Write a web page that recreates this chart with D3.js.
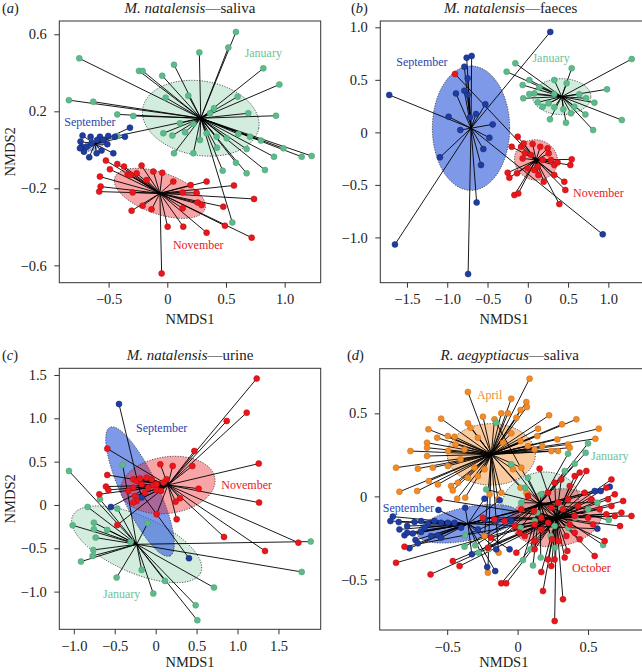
<!DOCTYPE html>
<html><head><meta charset="utf-8">
<script src="https://cdn.jsdelivr.net/npm/d3@7/dist/d3.min.js"></script>
<style>body{margin:0;background:#fff}svg{display:block}</style>
</head><body>
<svg id="chart" width="642" height="672"></svg>
<script>
// ---------- DATA (NMDS coordinates) ----------
// Panel (a) M. natalensis — saliva
const aJan = [[-0.750,0.475],[-0.838,0.258],[-0.631,0.250],[-0.426,0.184],[-0.290,0.176],[-0.426,0.072],[-0.241,0.410],[-0.210,0.410],[-0.043,0.385],[0.057,0.442],[0.273,0.506],[0.520,0.531],[0.585,0.612],[0.818,0.423],[0.955,0.339],[0.926,0.177],[0.690,0.190],[0.599,0.276],[0.179,0.281],[-0.014,0.271],[0.398,0.216],[0.364,0.190],[0.605,0.082],[0.705,0.068],[0.798,0.048],[0.989,0.008],[1.145,-0.036],[1.230,-0.032],[0.909,-0.036],[0.832,-0.105],[0.676,-0.122],[0.585,-0.067],[0.472,-0.108],[0.423,0.011],[0.222,-0.018],[0.057,-0.018],[0.676,0.004],[0.554,-0.377],[-0.034,0.086],[0.043,0.074],[0.151,0.091],[0.222,0.134],[0.108,0.138],[0.335,0.086],[0.420,0.068],[0.506,0.060],[0.278,0.051]];
const aSep = [[-0.318,0.115],[-0.361,0.068],[-0.446,0.068],[-0.503,0.072],[-0.574,0.068],[-0.722,0.074],[-0.653,0.068],[-0.739,0.043],[-0.730,0.016],[-0.710,-0.010],[-0.665,-0.039],[-0.602,-0.018],[-0.560,-0.004],[-0.511,0.029],[-0.460,-0.018],[-0.597,0.051],[-0.688,0.016],[-0.645,0.034],[-0.545,0.051],[-0.744,0.008]];
const aNov = [[-0.523,-0.056],[-0.426,-0.074],[-0.369,-0.087],[-0.338,-0.127],[-0.313,-0.131],[-0.219,-0.082],[-0.261,-0.122],[-0.574,-0.139],[-0.568,-0.191],[-0.580,-0.217],[-0.295,-0.221],[-0.304,-0.316],[-0.210,-0.290],[-0.134,-0.309],[0.003,-0.399],[0.136,-0.399],[0.335,-0.430],[0.491,-0.394],[0.719,-0.456],[-0.048,-0.642],[0.739,-0.255],[0.568,-0.185],[0.335,-0.165],[0.199,-0.183],[0.250,-0.223],[0.131,-0.221],[0.259,-0.274],[0.293,-0.287],[0.131,-0.304],[0.477,-0.295],[-0.043,-0.119],[-0.489,-0.101],[-0.176,-0.157],[0.051,-0.165],[-0.119,-0.113]];
const aCentroids = {Jan:[0.285,0.164], Sep:[-0.617,0.030], Nov:[-0.063,-0.226]};
const aEllipses = {Jan:[0.494,-0.052,-0.054,-0.190], Sep:[0.104,0.029,0.017,-0.024], Nov:[0.384,-0.082,-0.0585,-0.101]};
const aLabels = [["January",0.818,0.505],["September",-0.659,0.146],["November",0.264,-0.494]];
const aXTicks = [-0.5,0,0.5,1.0], aYTicks = [0.6,0.2,-0.2,-0.6];

// Panel (b) M. natalensis — faeces
const bSep = [[0.279,0.956],[-0.759,0.711],[-0.697,0.727],[-0.788,0.625],[-0.747,0.514],[-0.788,0.397],[-0.892,0.371],[-0.747,0.356],[-1.720,0.356],[-0.718,0.143],[-0.643,0.175],[-0.527,0.267],[-0.983,0.149],[-0.436,0.076],[-0.838,0.022],[-0.477,-0.051],[-0.552,-0.159],[-1.091,-0.238],[-0.581,-0.311],[-0.635,-0.667],[-1.649,-1.067],[-0.741,-1.349],[0.930,-0.971]];
const bJan = [[-0.155,0.657],[-0.263,0.578],[0.545,0.610],[1.290,0.698],[0.983,0.410],[0.329,0.498],[0.482,0.467],[0.019,0.498],[-0.064,0.451],[0.143,0.429],[0.081,0.371],[0.019,0.365],[-0.056,0.324],[0.123,0.286],[0.259,0.276],[0.329,0.365],[0.640,0.362],[0.723,0.324],[0.827,0.283],[0.715,0.171],[0.536,0.181],[0.441,0.219],[0.474,0.092],[0.275,0.124],[0.811,0.022],[1.167,0.117],[0.329,0.238],[0.184,0.244],[0.577,0.244]];
const bNov = [[-0.125,-0.041],[-0.200,-0.137],[-0.084,-0.137],[-0.051,-0.105],[0.060,-0.111],[0.155,-0.137],[0.246,-0.152],[0.259,-0.200],[-0.035,-0.200],[0.040,-0.216],[-0.064,-0.248],[0.184,-0.263],[0.288,-0.263],[0.329,-0.311],[0.545,-0.257],[0.528,-0.311],[0.370,-0.286],[-0.002,-0.343],[0.122,-0.327],[-0.134,-0.390],[-0.250,-0.384],[-0.229,-0.432],[0.131,-0.406],[0.197,-0.470],[0.329,-0.406],[0.453,-0.470],[0.466,-0.549],[0.391,-0.683],[-0.167,-0.597],[-0.118,-0.581],[0.081,-0.359],[-0.904,0.556]];
const bCentroids = {Sep:[-0.705,0.040], Jan:[0.421,0.340], Nov:[0.102,-0.263]};
const bEllipses = {Sep:[0.48,0,0,0.592], Jan:[0.362,0,0,0.171], Nov:[0.265,-0.032,-0.033,-0.19]};
const bLabels = [["September",-1.314,0.673],["January",0.289,0.714],["November",0.876,-0.575]];
const bXTicks = [-1.5,-1.0,-0.5,0,0.5,1.0], bYTicks = [1.0,0.5,0,-0.5,-1.0];

// Panel (c) M. natalensis — urine
const cNov = [[1.234,1.458],[1.112,1.065],[0.868,0.969],[0.473,0.623],[0.448,0.450],[0.057,0.469],[0.208,0.450],[1.259,0.477],[1.263,0.027],[0.525,0.188],[0.297,0.077],[0.244,0.038],[0.257,-0.165],[0.012,-0.108],[0.835,-0.369],[1.336,-0.531],[1.743,-0.435],[-0.468,-0.231],[-0.591,0.650],[-0.591,0.346],[-0.607,0.212],[-0.578,0.173],[-0.688,0.123],[-0.273,0.296],[-0.232,0.277],[-0.191,0.304],[-0.110,0.315],[-0.049,0.296],[-0.029,0.227],[0.012,0.173],[0.065,0.162],[-0.273,0.200],[-0.252,0.104],[-0.232,0.046],[-0.130,0.142],[-0.090,0.200],[0.094,0.258],[0.134,0.296],[-0.273,0.027],[-0.334,0.162],[-0.171,0.238],[0.012,0.238]];
const cSep = [[-0.448,1.165],[-0.171,0.085],[-0.546,-0.023],[0.407,-0.615]];
const cJan = [[-1.059,0.392],[-0.680,0.065],[-0.831,-0.023],[-0.468,-0.042],[-1.014,-0.235],[-0.754,-0.204],[-0.754,-0.281],[-0.591,-0.288],[-0.733,-0.377],[-0.762,-0.519],[-0.770,-0.588],[-0.912,-0.654],[-0.403,0.462],[-0.098,-0.212],[-0.305,-0.427],[-0.477,-0.838],[-0.171,-0.750],[-0.029,-1.023],[0.114,-0.877],[0.713,-0.954],[0.489,-1.158],[0.509,-1.331],[1.784,-0.773],[1.894,-0.423]];
const cCentroids = {Nov:[0.15,0.23], Sep:[-0.191,0.154], Jan:[-0.232,-0.454]};
const cEllipses = {Nov:[0.574,0.077,0.049,-0.323], Sep:[0.367,-0.742,0.203,0.0896], Jan:[0.782,-0.327,-0.140,-0.299]};
const cLabels = [["September",0.073,0.892],["November",1.112,0.231],["January",-0.415,-1.023]];
const cXTicks = [-1.0,-0.5,0,0.5,1.0,1.5], cYTicks = [1.5,1.0,0.5,0,-0.5,-1.0];

// Panel (d) R. aegyptiacus — saliva
const dApr = [[0.085,0.709],[-0.353,0.629],[-0.045,0.588],[0.062,0.568],[0.066,0.538],[0.021,0.520],[-0.116,0.500],[-0.069,0.500],[-0.009,0.474],[-0.246,0.480],[-0.164,0.464],[-0.543,0.468],[-0.353,0.440],[-0.334,0.414],[0.223,0.488],[0.417,0.464],[0.315,0.434],[0.576,0.408],[0.552,0.347],[0.282,0.343],[0.358,0.313],[0.370,0.293],[-0.633,0.404],[-0.571,0.353],[-0.495,0.363],[-0.448,0.359],[-0.643,0.323],[-0.643,0.293],[-0.761,0.273],[-0.643,0.243],[-0.495,0.273],[-0.441,0.313],[-0.863,0.173],[-0.708,0.167],[-0.602,0.173],[-0.495,0.183],[-0.630,0.092],[-0.566,0.072],[-0.713,0.032],[-0.839,0.028],[-0.472,0.062],[-0.460,0.036],[-0.429,-0.014],[-0.372,-0.008],[-0.424,0.082],[-0.353,0.112],[-0.199,0.012],[-0.116,0.022],[-0.140,-0.018],[0.145,0.408],[0.140,0.363],[0.073,0.303],[0.121,0.283],[0.175,0.303],[0.239,0.273],[0.287,0.273],[-0.282,0.122],[-0.235,0.163],[-0.306,0.173],[-0.045,0.380],[0.021,0.333],[-0.104,0.323],[-0.282,0.353],[-0.377,0.283],[-0.405,0.223],[-0.211,-0.460],[-0.135,-0.339],[-0.235,-0.239],[0.021,0.052],[0.062,0.022],[-0.033,0.163],[0.026,0.173]];
const dJan = [[0.500,0.319],[0.483,0.263],[0.358,0.257],[0.405,0.197],[0.334,0.153],[-0.045,0.193],[-0.152,0.444],[0.073,0.112],[0.054,0.052],[-0.223,0.042],[0.026,-0.038],[0.140,-0.098],[0.121,-0.149],[0.021,-0.189],[0.092,-0.319],[0.038,-0.384],[0.109,-0.416],[0.164,-0.369],[0.263,-0.309],[0.358,-0.189],[0.410,-0.129],[0.500,-0.078],[0.607,-0.293],[0.647,-0.143],[0.566,-0.038],[-0.372,-0.235],[-0.301,-0.295],[-0.277,-0.339],[-0.206,-0.319],[-0.377,-0.303],[0.235,-0.239],[0.263,-0.179],[0.310,-0.068],[0.168,0.012]];
const dSep = [[-0.886,-0.122],[-0.903,-0.149],[-0.844,-0.155],[-0.784,-0.179],[-0.732,-0.155],[-0.685,-0.149],[-0.637,-0.163],[-0.562,-0.082],[-0.590,-0.149],[-0.543,-0.159],[-0.495,-0.159],[-0.803,-0.235],[-0.784,-0.219],[-0.744,-0.223],[-0.685,-0.215],[-0.725,-0.263],[-0.768,-0.313],[-0.708,-0.283],[-0.614,-0.239],[-0.566,-0.235],[-0.543,-0.249],[-0.372,-0.068],[-0.235,-0.014],[-0.128,-0.024],[-0.235,-0.139],[-0.152,-0.149],[-0.045,-0.149],[-0.057,-0.319],[-0.152,-0.319],[-0.325,-0.349],[-0.216,-0.426],[-0.159,-0.450],[0.547,0.032],[0.590,0.032],[0.654,0.058],[0.566,-0.195],[-0.448,-0.159],[-0.401,-0.189],[-0.282,-0.199],[-0.661,-0.189],[-0.839,-0.199]];
const dOct = [[0.156,0.167],[0.488,0.153],[0.441,0.143],[0.666,0.102],[0.630,0.052],[0.690,0.012],[0.749,-0.028],[0.642,-0.018],[0.666,-0.058],[0.737,-0.098],[0.808,-0.118],[0.727,-0.179],[0.630,-0.108],[0.583,-0.078],[0.524,-0.018],[0.476,0.022],[0.370,0.062],[0.405,0.122],[0.310,0.102],[0.263,0.082],[0.216,0.022],[0.358,-0.018],[0.429,-0.058],[0.500,-0.129],[0.618,-0.269],[0.547,-0.359],[0.334,-0.369],[0.353,-0.329],[0.263,-0.380],[0.216,-0.380],[0.168,-0.456],[0.180,-0.570],[0.322,-0.620],[0.263,-0.751],[0.291,-0.269],[0.244,-0.259],[0.121,-0.269],[0.050,-0.239],[0.014,-0.219],[-0.021,-0.179],[-0.092,-0.149],[-0.164,-0.139],[-0.246,-0.129],[-0.187,-0.249],[-0.211,-0.309],[-0.116,-0.524],[-0.081,-0.524],[-0.412,-0.420],[-0.460,-0.390],[-0.618,-0.470],[-0.863,-0.400],[-0.803,-0.303],[-0.555,-0.018],[0.116,-0.088],[0.168,-0.129],[0.121,-0.169],[0.216,-0.159],[0.168,-0.199],[0.370,-0.169],[0.405,-0.219],[0.346,-0.239],[0.441,-0.259],[0.073,0.002],[0.026,-0.078],[0.239,-0.068],[0.287,-0.038],[0.322,-0.078],[0.405,-0.118],[0.690,-0.118],[0.536,-0.169],[-0.009,-0.339],[0.121,-0.319],[0.239,-0.420]];
const dCentroids = {Apr:[-0.187,0.253], Jan:[0.16,-0.04], Sep:[-0.353,-0.165], Oct:[0.275,-0.129]};
const dEllipses = {Apr:[0.313,0,0,0.185], Jan:[0.27,0.05,-0.04,0.18], Sep:[0.36,0.06,-0.01,0.1], Oct:[0.32,0.04,-0.03,0.17]};
const dLabels = [["April",-0.199,0.614],["January",0.654,0.247],["September",-0.775,-0.068],["October",0.524,-0.430]];
const dXTicks = [-0.5,0,0.5], dYTicks = [0.5,0,-0.5];

// ---------- STYLE ----------
const FONT = "'Liberation Serif','Times New Roman',Times,serif";
const COL = {
  Jan:{pt:"#5dba8a", edge:"#479d70", fill:"rgba(93,186,138,0.28)", text:"#6cc297"},
  Sep:{pt:"#1f3c9f", edge:"#13287a", fill:"rgba(60,100,222,0.66)", text:"#2a46b0"},
  Nov:{pt:"#e8171c", edge:"#b80c10", fill:"rgba(235,30,35,0.40)", text:"#e8171c"},
  Oct:{pt:"#e8171c", edge:"#b80c10", fill:"rgba(235,30,35,0.40)", text:"#e8171c"},
  Apr:{pt:"#f08b28", edge:"#c96a10", fill:"rgba(242,140,42,0.45)", text:"#f08b28"}
};
const sepFillA = "rgba(60,100,222,0.45)";

const svg = d3.select("#chart");
const fmt = v => v === 0 ? "0" : (v < 0 ? "\u2212" : "") + Math.abs(v).toFixed(1);

const panels = [
  {id:"a", tag:"(a)", sp:"M. natalensis", rest:"\u2014saliva", box:[59.3,21,320.7,282.7], xd:[-0.920,1.307], yd:[-0.690,0.669],
   groups:[["Jan",aJan,aCentroids.Jan,aEllipses.Jan],["Sep",aSep,aCentroids.Sep,aEllipses.Sep],["Nov",aNov,aCentroids.Nov,aEllipses.Nov]],
   labels:aLabels, lcols:["Jan","Sep","Nov"], xt:aXTicks, yt:aYTicks, ylab:true, tagX:2},
  {id:"b", tag:"(b)", sp:"M. natalensis", rest:"\u2014faeces", box:[380.3,21,643,282.7], xd:[-1.831,1.430], yd:[-1.431,1.060],
   groups:[["Sep",bSep,bCentroids.Sep,bEllipses.Sep],["Jan",bJan,bCentroids.Jan,bEllipses.Jan],["Nov",bNov,bCentroids.Nov,bEllipses.Nov]],
   labels:bLabels, lcols:["Sep","Jan","Nov"], xt:bXTicks, yt:bYTicks, ylab:false, tagX:351, titleCx:510.7},
  {id:"c", tag:"(c)", sp:"M. natalensis", rest:"\u2014urine", box:[59.3,368.3,320.7,629.3], xd:[-1.177,2.016], yd:[-1.435,1.577],
   groups:[["Jan",cJan,cCentroids.Jan,cEllipses.Jan],["Sep",cSep,cCentroids.Sep,cEllipses.Sep],["Nov",cNov,cCentroids.Nov,cEllipses.Nov]],
   labels:cLabels, lcols:["Sep","Nov","Jan"], xt:cXTicks, yt:cYTicks, ylab:true, tagX:2},
  {id:"d", tag:"(d)", sp:"R. aegyptiacus", rest:"\u2014saliva", box:[379.7,368.7,643,630], xd:[-0.979,0.890], yd:[-0.805,0.769],
   groups:[["Apr",dApr,dCentroids.Apr,dEllipses.Apr],["Jan",dJan,dCentroids.Jan,dEllipses.Jan],["Sep",dSep,dCentroids.Sep,dEllipses.Sep],["Oct",dOct,dCentroids.Oct,dEllipses.Oct]],
   labels:dLabels, lcols:["Apr","Jan","Sep","Oct"], xt:dXTicks, yt:dYTicks, ylab:false, tagX:347, titleCx:509.7}
];

panels.forEach(p => {
  const [L,T,R,B] = p.box;
  const x = d3.scaleLinear().domain(p.xd).range([L,R]);
  const y = d3.scaleLinear().domain(p.yd).range([B,T]);
  const g = svg.append("g");
  g.append("clipPath").attr("id","clip"+p.id).append("rect").attr("x",L).attr("y",T).attr("width",R-L).attr("height",B-T);
  const plot = g.append("g").attr("clip-path","url(#clip"+p.id+")");

  // ellipses
  p.groups.forEach(([k,pts,c,e]) => {
    const ring = d3.range(0,121).map(i => {
      const t = i/120*2*Math.PI;
      return [x(c[0]+e[0]*Math.cos(t)+e[2]*Math.sin(t)), y(c[1]+e[1]*Math.cos(t)+e[3]*Math.sin(t))];
    });
    plot.append("path").attr("d", d3.line()(ring)+"Z")
      .attr("fill", (p.id==="a" && k==="Sep") ? sepFillA : COL[k].fill)
      .attr("stroke","#333").attr("stroke-width",0.8).attr("stroke-dasharray","1.2,1.4");
  });
  // spider lines
  p.groups.forEach(([k,pts,c]) => {
    plot.append("g").selectAll("line").data(pts).join("line")
      .attr("x1",x(c[0])).attr("y1",y(c[1]))
      .attr("x2",d=>x(d[0])).attr("y2",d=>y(d[1]))
      .attr("stroke","#000").attr("stroke-width",0.9);
  });
  // points
  p.groups.forEach(([k,pts]) => {
    plot.append("g").selectAll("circle").data(pts).join("circle")
      .attr("cx",d=>x(d[0])).attr("cy",d=>y(d[1])).attr("r",3)
      .attr("fill",COL[k].pt).attr("stroke",COL[k].edge).attr("stroke-width",0.5);
  });
  // group labels
  p.labels.forEach((l,i) => {
    plot.append("text").attr("x",x(l[1])).attr("y",y(l[2])).attr("dy","0.35em")
      .attr("text-anchor","middle").attr("font-family",FONT).attr("font-size",12)
      .attr("fill",COL[p.lcols[i]].text).text(l[0]);
  });
  // box
  g.append("rect").attr("x",L).attr("y",T).attr("width",R-L).attr("height",B-T)
    .attr("fill","none").attr("stroke","#333").attr("stroke-width",1);
  // axes
  const xa = g.append("g").attr("transform",`translate(0,${B})`)
    .call(d3.axisBottom(x).tickValues(p.xt).tickFormat(fmt).tickSize(5).tickPadding(6.5));
  const ya = g.append("g").attr("transform",`translate(${L},0)`)
    .call(d3.axisLeft(y).tickValues(p.yt).tickFormat(fmt).tickSize(5).tickPadding(7.5));
  [xa,ya].forEach(a => {
    a.select(".domain").remove();
    a.selectAll("line").attr("stroke","#333");
    a.selectAll("text").attr("font-family",FONT).attr("font-size",14.5).attr("fill","#222");
  });
  // axis titles
  g.append("text").attr("x",(L+Math.min(R,642))/2 + (p.id==="a"||p.id==="c" ? 0 : -7)).attr("y",Math.min(B+41.3,667))
    .attr("text-anchor","middle").attr("font-family",FONT).attr("font-size",14.5).attr("fill","#222").text("NMDS1");
  if (p.ylab) {
    g.append("text").attr("transform",`translate(15,${(T+B)/2}) rotate(-90)`)
      .attr("text-anchor","middle").attr("font-family",FONT).attr("font-size",14.5).attr("fill","#222").text("NMDS2");
  }
  // panel title
  const cx = p.titleCx || (L+R)/2;
  const t = g.append("text").attr("x",cx).attr("y",T-8.3).attr("text-anchor","middle")
    .attr("font-family",FONT).attr("font-size",15).attr("fill","#222");
  t.append("tspan").attr("font-style","italic").text(p.sp);
  t.append("tspan").text(p.rest);
  const tg = g.append("text").attr("x",p.tagX).attr("y",T-8.3).attr("font-family",FONT).attr("font-size",14.5).attr("fill","#222");
  tg.append("tspan").text("(");
  tg.append("tspan").attr("font-style","italic").text(p.tag.slice(1,2));
  tg.append("tspan").text(")");
});
</script>
</body></html>
